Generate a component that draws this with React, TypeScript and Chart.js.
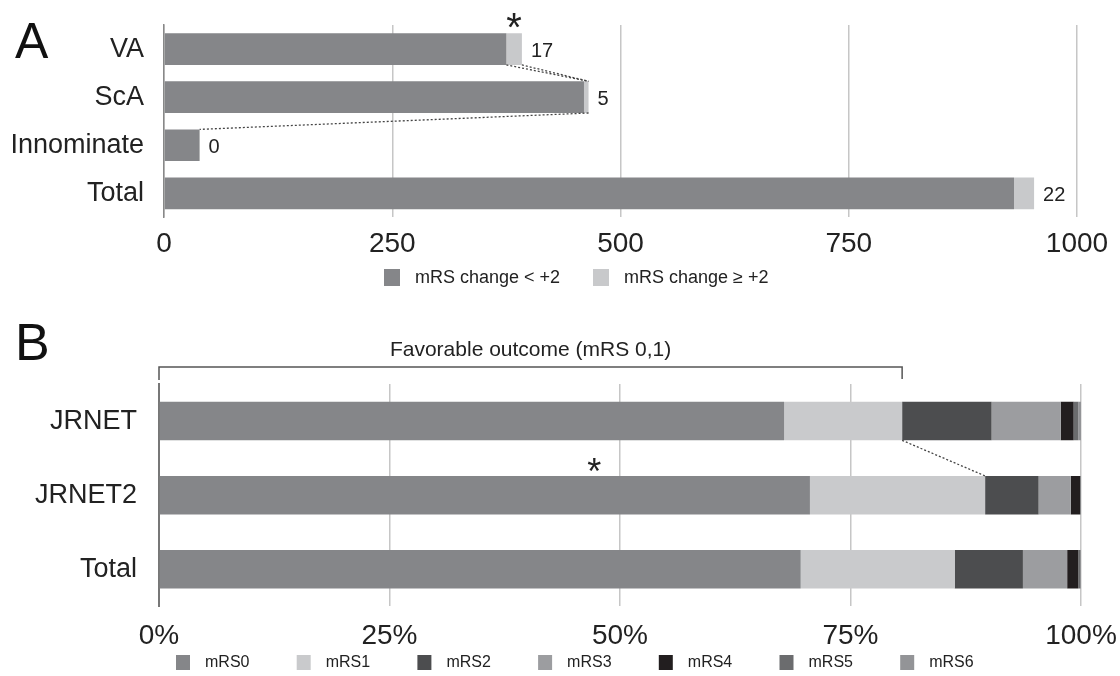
import React, { useEffect, useRef } from "react";
import { Chart, registerables } from "chart.js";

Chart.register(...registerables);

const FONT = "'Liberation Sans', Arial, Helvetica, sans-serif";

// ---------- Panel A data ----------
const aCategories = ["VA", "ScA", "Innominate", "Total"];
const aSeriesNames = ["mRS change < +2", "mRS change \u2265 +2"];
const aChangeLow = [375, 460, 39, 931];
const aChangeHigh = [17, 5, 0, 22];
const aValueLabels = ["17", "5", "0", "22"];
const aTicks = [0, 250, 500, 750, 1000];
const aColors = ["#858689", "#c8c9cb"];

// ---------- Panel B data ----------
const bCategories = ["JRNET", "JRNET2", "Total"];
const bSeriesNames = ["mRS0", "mRS1", "mRS2", "mRS3", "mRS4", "mRS5", "mRS6"];
const bMrs0 = [67.8, 70.6, 69.6];
const bMrs1 = [12.8, 19.0, 16.7];
const bMrs2 = [9.7, 5.8, 7.4];
const bMrs3 = [7.5, 3.5, 4.8];
const bMrs4 = [1.4, 1.0, 1.2];
const bMrs5 = [0.5, 0.05, 0.2];
const bMrs6 = [0.3, 0.05, 0.1];
const bTicks = [0, 25, 50, 75, 100];
const bColors = ["#858689", "#c9cacc", "#4c4d4f", "#9c9da0", "#221e1f", "#6b6c6e", "#939497"];
const bStarValue = 47.2;
const bracketTitle = "Favorable outcome (mRS 0,1)";

function drawStar(ctx: CanvasRenderingContext2D, x: number, cy: number, size: number) {
  ctx.save();
  ctx.font = `${size}px ${FONT}`;
  ctx.fillStyle = "#222";
  ctx.textAlign = "center";
  ctx.textBaseline = "alphabetic";
  ctx.fillText("*", x, cy + size * 0.58);
  ctx.restore();
}

function dotted(ctx: CanvasRenderingContext2D, x1: number, y1: number, x2: number, y2: number) {
  ctx.save();
  ctx.strokeStyle = "#444";
  ctx.lineWidth = 1.3;
  ctx.setLineDash([2, 2]);
  ctx.beginPath();
  ctx.moveTo(x1, y1);
  ctx.lineTo(x2, y2);
  ctx.stroke();
  ctx.restore();
}

const noPadY = (s: any, w: number) => {
  s.width = w;
  s.paddingTop = 0;
  s.paddingBottom = 0;
};
const noPadX = (s: any) => {
  s.paddingLeft = 0;
  s.paddingRight = 0;
};

const panelAPlugin = {
  id: "panelAExtras",
  afterDatasetsDraw(chart: any) {
    const ctx = chart.ctx as CanvasRenderingContext2D;
    const m0 = chart.getDatasetMeta(0).data;
    const m1 = chart.getDatasetMeta(1).data;
    const top = (el: any) => el.y - el.height / 2;
    const bot = (el: any) => el.y + el.height / 2;
    dotted(ctx, m0[0].x, bot(m0[0]), m1[1].x, top(m1[1]));
    dotted(ctx, m1[0].x, bot(m1[0]), m1[1].x, top(m1[1]));
    dotted(ctx, m1[1].x, bot(m1[1]), m1[2].x, top(m1[2]));
    ctx.save();
    ctx.font = `20px ${FONT}`;
    ctx.fillStyle = "#222";
    ctx.textAlign = "left";
    ctx.textBaseline = "middle";
    aValueLabels.forEach((t, i) => {
      ctx.fillText(t, m1[i].x + 9, m1[i].y + 2);
    });
    ctx.restore();
    drawStar(ctx, (m0[0].x + m1[0].x) / 2, 18, 40);
    ctx.save();
    ctx.font = `50px ${FONT}`;
    ctx.fillStyle = "#111";
    ctx.textBaseline = "alphabetic";
    ctx.fillText("A", 15, 58);
    ctx.restore();
    ctx.save();
    ctx.font = `18px ${FONT}`;
    ctx.textBaseline = "middle";
    const lx = [384, 593];
    chart.data.datasets.forEach((ds: any, i: number) => {
      ctx.fillStyle = ds.backgroundColor;
      ctx.fillRect(lx[i], 269, 16, 17);
      ctx.fillStyle = "#222";
      ctx.fillText(ds.label, lx[i] + 31, 278);
    });
    ctx.restore();
  },
};

const panelBPlugin = {
  id: "panelBExtras",
  afterDatasetsDraw(chart: any) {
    const ctx = chart.ctx as CanvasRenderingContext2D;
    const xs = chart.scales.x;
    const m1 = chart.getDatasetMeta(1).data;
    const top = (el: any) => el.y - el.height / 2;
    const bot = (el: any) => el.y + el.height / 2;
    const bl = xs.getPixelForValue(0);
    const br = m1[0].x;
    ctx.save();
    ctx.strokeStyle = "#555";
    ctx.lineWidth = 1.5;
    ctx.beginPath();
    ctx.moveTo(bl, 80);
    ctx.lineTo(bl, 67);
    ctx.lineTo(br, 67);
    ctx.lineTo(br, 79);
    ctx.stroke();
    ctx.font = `21px ${FONT}`;
    ctx.fillStyle = "#222";
    ctx.textAlign = "center";
    ctx.textBaseline = "middle";
    ctx.fillText(bracketTitle, (bl + br) / 2, 50);
    ctx.restore();
    dotted(ctx, m1[0].x, bot(m1[0]), m1[1].x, top(m1[1]));
    drawStar(ctx, xs.getPixelForValue(bStarValue), 163, 36);
    ctx.save();
    ctx.font = `52px ${FONT}`;
    ctx.fillStyle = "#111";
    ctx.textBaseline = "alphabetic";
    ctx.fillText("B", 15, 60);
    ctx.restore();
    ctx.save();
    ctx.font = `16px ${FONT}`;
    ctx.textBaseline = "middle";
    chart.data.datasets.forEach((ds: any, i: number) => {
      const x = 176 + i * 120.7;
      ctx.fillStyle = ds.backgroundColor;
      ctx.fillRect(x, 355, 14, 15);
      ctx.fillStyle = "#222";
      ctx.fillText(ds.label, x + 29, 363);
    });
    ctx.restore();
  },
};

export default function App() {
  const refA = useRef<HTMLCanvasElement>(null);
  const refB = useRef<HTMLCanvasElement>(null);

  useEffect(() => {
    const chartA = new Chart(refA.current as HTMLCanvasElement, {
      type: "bar",
      data: {
        labels: aCategories,
        datasets: [
          { label: aSeriesNames[0], data: aChangeLow, backgroundColor: aColors[0], barPercentage: 0.66, categoryPercentage: 1 },
          { label: aSeriesNames[1], data: aChangeHigh, backgroundColor: aColors[1], barPercentage: 0.66, categoryPercentage: 1 },
        ],
      },
      options: {
        indexAxis: "y",
        responsive: false,
        animation: false,
        devicePixelRatio: 1,
        layout: { padding: { top: 25, right: 43, bottom: 29, left: 0 } },
        plugins: { legend: { display: false }, tooltip: { enabled: false } },
        scales: {
          x: {
            type: "linear",
            stacked: true,
            min: 0,
            max: 1000,
            afterBuildTicks: (s: any) => {
              s.ticks = aTicks.map((v) => ({ value: v }));
            },
            afterFit: noPadX,
            grid: { color: "#c6c6c6", lineWidth: 1.5, drawTicks: false },
            border: { display: false },
            ticks: {
              font: { size: 28, family: FONT },
              color: "#222",
              padding: 10,
              maxRotation: 0,
              callback: (v: any) => String(v),
            },
          },
          y: {
            stacked: true,
            grid: { display: false, drawTicks: false },
            border: { display: true, color: "#888", width: 1.5 },
            ticks: { font: { size: 27, family: FONT }, color: "#222", padding: 20 },
            afterFit: (s: any) => noPadY(s, 164),
          },
        },
      } as any,
      plugins: [panelAPlugin],
    });

    const bData = [bMrs0, bMrs1, bMrs2, bMrs3, bMrs4, bMrs5, bMrs6];
    const chartB = new Chart(refB.current as HTMLCanvasElement, {
      type: "bar",
      data: {
        labels: bCategories,
        datasets: bData.map((d, i) => ({
          label: bSeriesNames[i],
          data: d,
          backgroundColor: bColors[i],
          barPercentage: 0.52,
          categoryPercentage: 1,
        })),
      },
      options: {
        indexAxis: "y",
        responsive: false,
        animation: false,
        devicePixelRatio: 1,
        layout: { padding: { top: 84, right: 39, bottom: 10, left: 0 } },
        plugins: { legend: { display: false }, tooltip: { enabled: false } },
        scales: {
          x: {
            type: "linear",
            stacked: true,
            min: 0,
            max: 100,
            afterBuildTicks: (s: any) => {
              s.ticks = bTicks.map((v) => ({ value: v }));
            },
            afterFit: noPadX,
            grid: { color: "#c6c6c6", lineWidth: 1.5, drawTicks: false },
            border: { display: false },
            ticks: {
              font: { size: 28, family: FONT },
              color: "#222",
              padding: 13,
              maxRotation: 0,
              callback: (v: any) => `${v}%`,
            },
          },
          y: {
            stacked: true,
            grid: { display: false, drawTicks: false },
            border: { display: true, color: "#777", width: 2 },
            ticks: { font: { size: 27, family: FONT }, color: "#222", padding: 22 },
            afterFit: (s: any) => noPadY(s, 159),
          },
        },
      } as any,
      plugins: [panelBPlugin],
    });

    return () => {
      chartA.destroy();
      chartB.destroy();
    };
  }, []);

  return (
    <div style={{ position: "fixed", left: 0, top: 0, width: 1120, height: 676, background: "#fff" }}>
      <canvas ref={refA} width={1120} height={300} style={{ position: "absolute", left: 0, top: 0 }} />
      <canvas ref={refB} width={1120} height={376} style={{ position: "absolute", left: 0, top: 300 }} />
    </div>
  );
}
